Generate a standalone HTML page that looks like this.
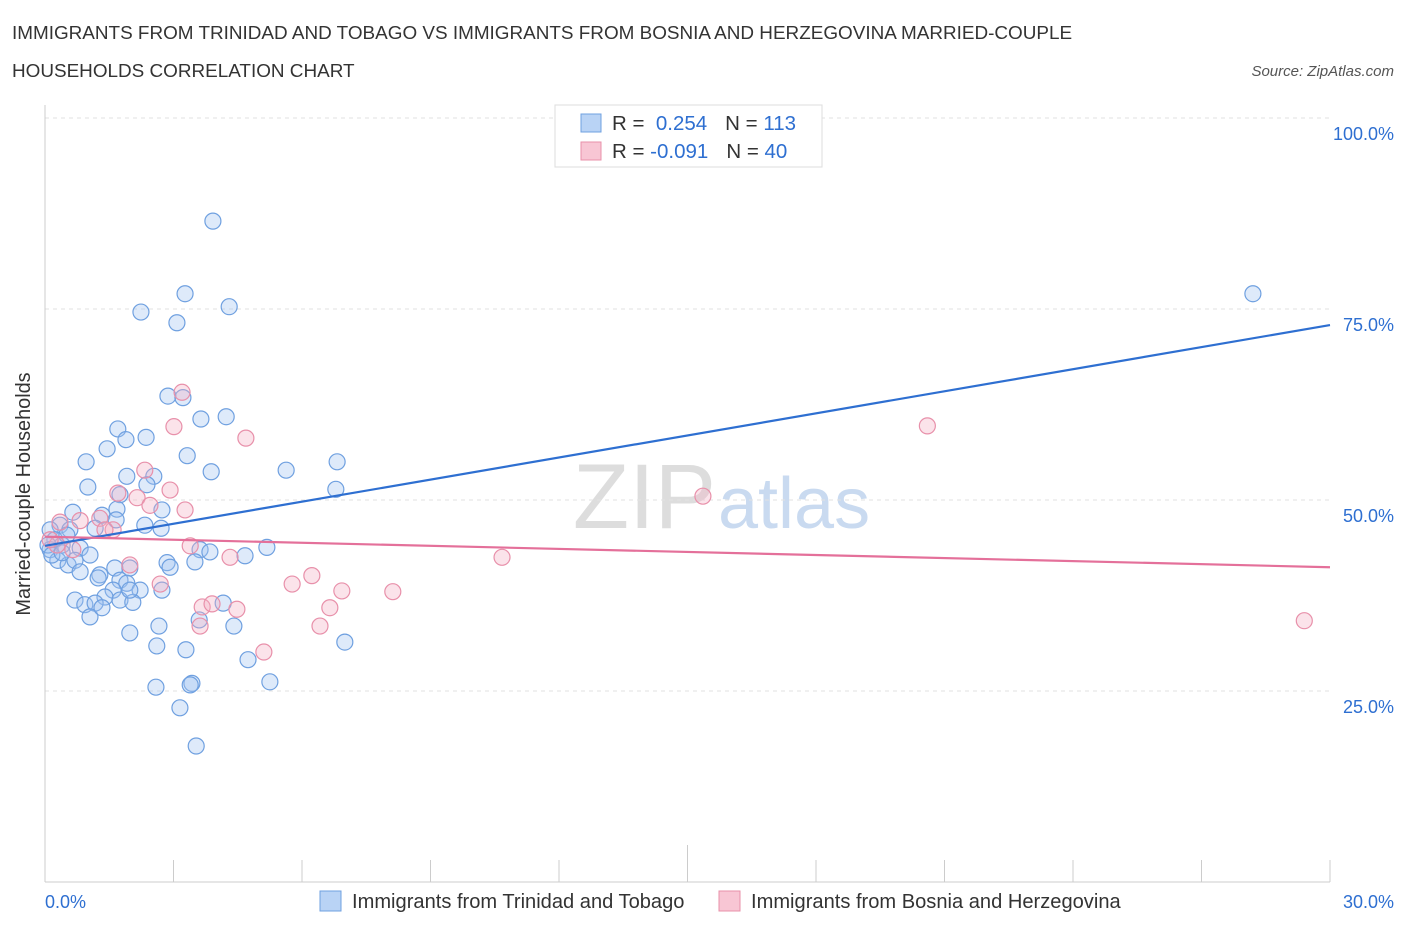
<!DOCTYPE html>
<html><head><meta charset="utf-8"><style>
body{margin:0;background:#fff;font-family:"Liberation Sans",sans-serif;}
svg text{font-family:"Liberation Sans",sans-serif;}
</style></head><body>
<svg width="1406" height="930" id="c">
<text x="12" y="39" font-size="18.9" fill="#333">IMMIGRANTS FROM TRINIDAD AND TOBAGO VS IMMIGRANTS FROM BOSNIA AND HERZEGOVINA MARRIED-COUPLE</text>
<text x="12" y="77" font-size="18.9" fill="#333">HOUSEHOLDS CORRELATION CHART</text>
<text x="1394" y="76" font-size="15" fill="#555" font-style="italic" text-anchor="end">Source: ZipAtlas.com</text>
<text x="716" y="528" font-size="92" fill="#ddd" text-anchor="end" font-family="Liberation Serif">ZIP</text>
<text x="718" y="528" font-size="72" fill="#c9daf0">atlas</text>
<g id="grid"></g>
<g id="pts"></g>
<g id="lines"></g>
<text x="30" y="494" font-size="19.9" fill="#333" text-anchor="middle" transform="rotate(-90 30 494)">Married-couple Households</text>
<g>
<rect x="555" y="105" width="267" height="62" fill="#fff" stroke="#ddd"/>
<rect x="581" y="114" width="20" height="18" fill="#b9d3f5" stroke="#6fa0e0"/>
<rect x="581" y="142" width="20" height="18" fill="#f8c6d4" stroke="#e890aa"/>
<text x="612" y="130" font-size="20.5" fill="#333">R = <tspan fill="#2e6fd1">&#160;0.254</tspan><tspan dx="18">N = </tspan><tspan fill="#2e6fd1">113</tspan></text>
<text x="612" y="158" font-size="20.5" fill="#333">R = <tspan fill="#2e6fd1">-0.091</tspan><tspan dx="18">N = </tspan><tspan fill="#2e6fd1">40</tspan></text>
</g>
<g>
<rect x="320" y="891" width="21" height="20" fill="#b9d3f5" stroke="#6fa0e0"/>
<text x="352" y="908" font-size="20.1" fill="#333">Immigrants from Trinidad and Tobago</text>
<rect x="719" y="891" width="21" height="20" fill="#f8c6d4" stroke="#e890aa"/>
<text x="751" y="908" font-size="20.1" fill="#333">Immigrants from Bosnia and Herzegovina</text>
</g>
</svg>
<script>
const yTicks=[25,50,75,100];
const xTickLabels=["0.0%","30.0%"];
const blueX=[3.92,3.27,4.30,2.24,3.08,28.2,2.87,3.22,3.64,4.23,1.70,2.36,1.89,1.45,0.96,3.32,6.82,5.63,1.91,3.88,2.54,1.00,2.38,1.75,6.79,0.65,1.33,1.68,2.73,1.66,2.33,2.71,0.35,0.12,0.58,1.17,0.23,0.40,0.82,1.05,0.12,0.30,0.54,0.70,3.62,3.85,4.67,5.18,3.50,2.85,2.92,1.98,1.63,0.82,1.28,1.75,1.91,2.22,1.24,1.59,1.40,0.70,0.93,1.17,1.75,2.05,2.73,4.16,4.41,3.60,2.66,1.98,1.05,7.00,2.61,3.29,4.74,5.25,2.59,3.43,3.39,3.15,3.53,1.33,1.98,0.51,0.07,0.16,0.40];
const blueY=[86.5,77.0,75.3,74.6,73.2,77.0,63.6,63.4,60.6,60.9,59.3,58.2,57.9,56.7,55.0,55.8,55.0,53.9,53.1,53.7,53.1,51.7,52.0,50.7,51.4,48.4,48.0,48.8,48.7,47.4,46.7,46.3,46.7,46.1,46.1,46.3,44.8,44.1,43.7,42.8,43.5,42.1,41.5,42.1,43.5,43.2,42.7,43.8,41.9,41.8,41.2,41.1,41.1,40.6,40.2,39.5,39.1,38.2,39.8,38.2,37.3,36.9,36.3,36.5,36.9,36.6,38.2,36.5,33.5,34.3,33.5,32.6,34.7,31.4,30.9,30.4,29.1,26.2,25.5,26.0,25.8,22.8,17.8,35.9,38.2,45.4,44.1,42.8,43.1];
const pinkX=[3.20,4.69,20.6,3.01,2.33,2.92,1.70,2.15,2.45,3.27,15.36,1.28,1.59,0.82,0.35,0.28,0.65,3.39,4.32,10.67,2.69,5.77,6.23,6.93,8.12,3.67,4.48,3.90,6.65,3.62,6.42,5.11,29.4,0.12,1.98,1.40];
const pinkY=[64.1,58.1,59.7,59.6,53.9,51.3,50.9,50.3,49.3,48.7,50.5,47.6,46.1,47.3,47.1,44.1,43.5,44.0,42.5,42.5,39.0,39.0,40.1,38.1,38.0,36.0,35.7,36.4,35.9,33.5,33.5,30.1,34.2,44.8,41.5,46.1];
const blueTrend=[44.0,72.9];
const pinkTrend=[45.2,41.2];
const NS="http://www.w3.org/2000/svg";
const sx=v=>45+v/30*1285;
const sy=v=>882-v/100*764;
function mk(tag,attrs,parent){const e=document.createElementNS(NS,tag);for(const k in attrs)e.setAttribute(k,attrs[k]);parent.appendChild(e);return e;}
const grid=document.getElementById('grid');
yTicks.forEach(t=>{
 const l=mk('line',{x1:45,x2:1330,y1:sy(t),y2:sy(t),stroke:'#e2e2e2','stroke-dasharray':'4,4'},grid);
 
 
 const tx=mk('text',{x:1394,y:sy(t)+22,'font-size':18,fill:'#2e6fd1','text-anchor':'end'},grid);
 tx.textContent=t.toFixed(1)+'%';
 
 
});
const ax=mk('line',{x1:45,x2:45,y1:105,y2:882,stroke:'#ccc'},grid);


const bx=mk('line',{x1:45,x2:1330,y1:882,y2:882,stroke:'#ccc'},grid);


for(let i=0;i<=10;i++){
 const v=i*3;
 const t=mk('line',{x1:sx(v),x2:sx(v),y1:i==5?845:860,y2:882,stroke:'#ccc'},grid);
 
 
}
const xl0=mk('text',{x:45,y:908,'font-size':18,fill:'#2e6fd1'},grid);
xl0.textContent=xTickLabels[0];


const xl1=mk('text',{x:1394,y:908,'font-size':18,fill:'#2e6fd1','text-anchor':'end'},grid);
xl1.textContent=xTickLabels[1];


const pts=document.getElementById('pts');
blueX.forEach((x,i)=>{
 const c=mk('circle',{cx:sx(x),cy:sy(blueY[i]),r:8,fill:'rgba(160,196,240,0.35)',stroke:'#6fa0e0','stroke-width':1.2},pts);
 
 
});
pinkX.forEach((x,i)=>{
 const c=mk('circle',{cx:sx(x),cy:sy(pinkY[i]),r:8,fill:'rgba(244,176,196,0.35)',stroke:'#e890aa','stroke-width':1.2},pts);
 
 
});
const lines=document.getElementById('lines');
const bl=mk('line',{x1:sx(0),y1:sy(blueTrend[0]),x2:sx(30),y2:sy(blueTrend[1]),stroke:'#2e6fd1','stroke-width':2.2},lines);


const pl=mk('line',{x1:sx(0),y1:sy(pinkTrend[0]),x2:sx(30),y2:sy(pinkTrend[1]),stroke:'#e4709a','stroke-width':2.2},lines);


</script>
</body></html>
